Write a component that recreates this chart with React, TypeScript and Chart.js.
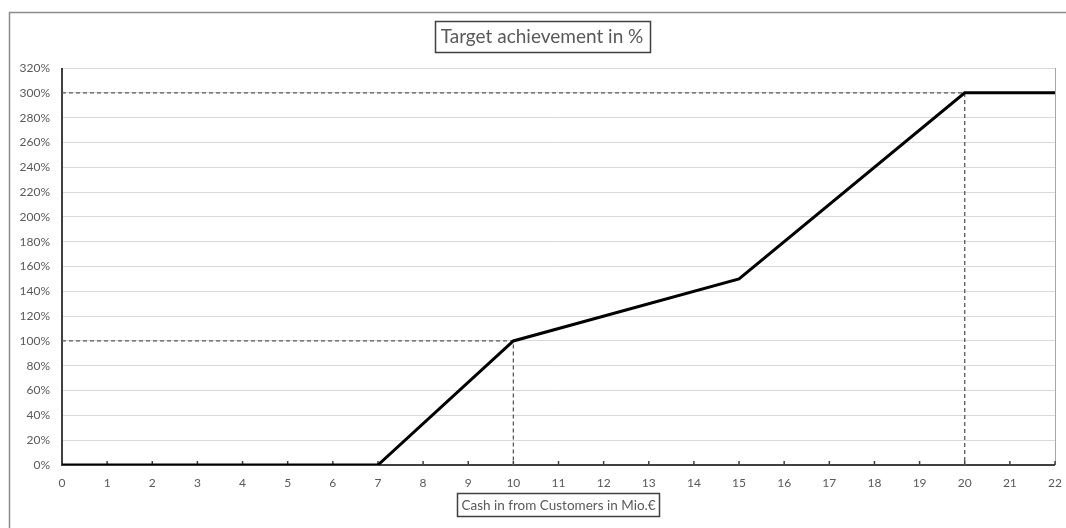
import React, { useEffect, useRef } from "react";
import { Chart, registerables } from "chart.js";

Chart.register(...registerables);

const xValues = [0, 7, 10, 15, 20, 22];
const yValues = [0, 0, 100, 150, 300, 300];
const guide100X = [0, 10, 10];
const guide100Y = [100, 100, 0];
const guide300X = [0, 20, 20];
const guide300Y = [300, 300, 0];
const titleText = "Target achievement in %";
const xTitleText = "Cash in from Customers in Mio.€";

const W = 1066;
const H = 528;
const FONT = "Lato, 'Open Sans', sans-serif";

const pts = (xs: number[], ys: number[]) => xs.map((x, i) => ({ x, y: ys[i] }));

const decorPlugin = {
  id: "decor",
  beforeDraw(chart: any) {
    const ctx = chart.ctx;
    ctx.save();
    ctx.fillStyle = "#ffffff";
    ctx.fillRect(0, 0, W, H);
    ctx.restore();
  },
  beforeDatasetsDraw(chart: any) {
    const ctx = chart.ctx;
    const a = chart.chartArea;
    const xs = chart.scales.x;
    ctx.save();
    ctx.strokeStyle = "#a6a6a6";
    ctx.lineWidth = 1;
    ctx.beginPath();
    ctx.moveTo(Math.round(a.right) + 0.5, a.top);
    ctx.lineTo(Math.round(a.right) + 0.5, a.bottom);
    ctx.stroke();
    ctx.strokeStyle = "#404040";
    ctx.lineWidth = 2;
    ctx.beginPath();
    ctx.moveTo(a.left, a.top);
    ctx.lineTo(a.left, a.bottom);
    ctx.lineTo(a.right, a.bottom);
    ctx.stroke();
    ctx.lineWidth = 1.5;
    for (let v = 0; v <= 22; v++) {
      const px = xs.getPixelForValue(v);
      ctx.beginPath();
      ctx.moveTo(px, a.bottom);
      ctx.lineTo(px, a.bottom - 4);
      ctx.stroke();
    }
    ctx.restore();
  },
  afterDraw(chart: any) {
    const ctx = chart.ctx;
    const a = chart.chartArea;
    ctx.save();
    ctx.strokeStyle = "#8c8c8c";
    ctx.lineWidth = 1.5;
    ctx.strokeRect(9.5, 12.5, W + 20, H + 20);
    ctx.font = "19px " + FONT;
    ctx.textAlign = "center";
    ctx.textBaseline = "middle";
    const tw = ctx.measureText(titleText).width;
    const tcx = 542;
    ctx.strokeStyle = "#404040";
    ctx.lineWidth = 1.5;
    ctx.strokeRect(Math.round(tcx - tw / 2 - 6) + 0.5, 21.5, Math.round(tw + 12), 31);
    ctx.fillStyle = "#595959";
    ctx.fillText(titleText, tcx, 37);
    ctx.font = "13.5px " + FONT;
    const xw = ctx.measureText(xTitleText).width;
    const xcx = (a.left + a.right) / 2;
    ctx.lineWidth = 1.5;
    ctx.strokeRect(Math.round(xcx - xw / 2 - 4) + 0.5, 493.5, Math.round(xw + 8), 23);
    ctx.fillStyle = "#595959";
    ctx.fillText(xTitleText, xcx, 505.5);
    ctx.restore();
  },
};

export default function App() {
  const ref = useRef<HTMLCanvasElement | null>(null);
  useEffect(() => {
    document.body.style.margin = "0";
    const canvas = ref.current;
    if (!canvas) return;
    const chart = new Chart(canvas, {
      type: "scatter",
      data: {
        datasets: [
          {
            data: pts(xValues, yValues),
            showLine: true,
            borderColor: "#000000",
            borderWidth: 3,
            pointRadius: 0,
            order: 0,
          },
          {
            data: pts(guide100X, guide100Y),
            showLine: true,
            borderColor: "#595959",
            borderWidth: 1.3,
            borderDash: [4, 3],
            pointRadius: 0,
            order: 1,
          },
          {
            data: pts(guide300X, guide300Y),
            showLine: true,
            borderColor: "#595959",
            borderWidth: 1.3,
            borderDash: [4, 3],
            pointRadius: 0,
            order: 1,
          },
        ],
      },
      options: {
        responsive: false,
        animation: false,
        devicePixelRatio: 1,
        layout: { padding: { top: 68, right: 11, left: 0, bottom: 0 } },
        plugins: {
          legend: { display: false },
          tooltip: { enabled: false },
          title: { display: false },
        },
        scales: {
          x: {
            type: "linear",
            min: 0,
            max: 22,
            afterFit: (s: any) => {
              s.height = 63;
              s.paddingLeft = 0;
              s.paddingRight = 0;
            },
            ticks: {
              stepSize: 1,
              padding: 11,
              color: "#595959",
              font: { family: FONT, size: 12 },
              maxRotation: 0,
              autoSkip: false,
            },
            grid: { display: false, drawTicks: false },
            border: { display: false },
          },
          y: {
            type: "linear",
            min: 0,
            max: 320,
            afterFit: (s: any) => {
              s.width = 62;
              s.paddingTop = 0;
              s.paddingBottom = 0;
            },
            ticks: {
              stepSize: 20,
              padding: 12,
              color: "#595959",
              font: { family: FONT, size: 12 },
              callback: (v: any) => v + "%",
            },
            grid: { color: "#d9d9d9", lineWidth: 1, drawTicks: false },
            border: { display: false },
          },
        },
      },
      plugins: [decorPlugin],
    } as any);
    return () => chart.destroy();
  }, []);
  return (
    <div style={{ width: W, height: H }}>
      <canvas ref={ref} width={W} height={H} style={{ display: "block" }} />
    </div>
  );
}
